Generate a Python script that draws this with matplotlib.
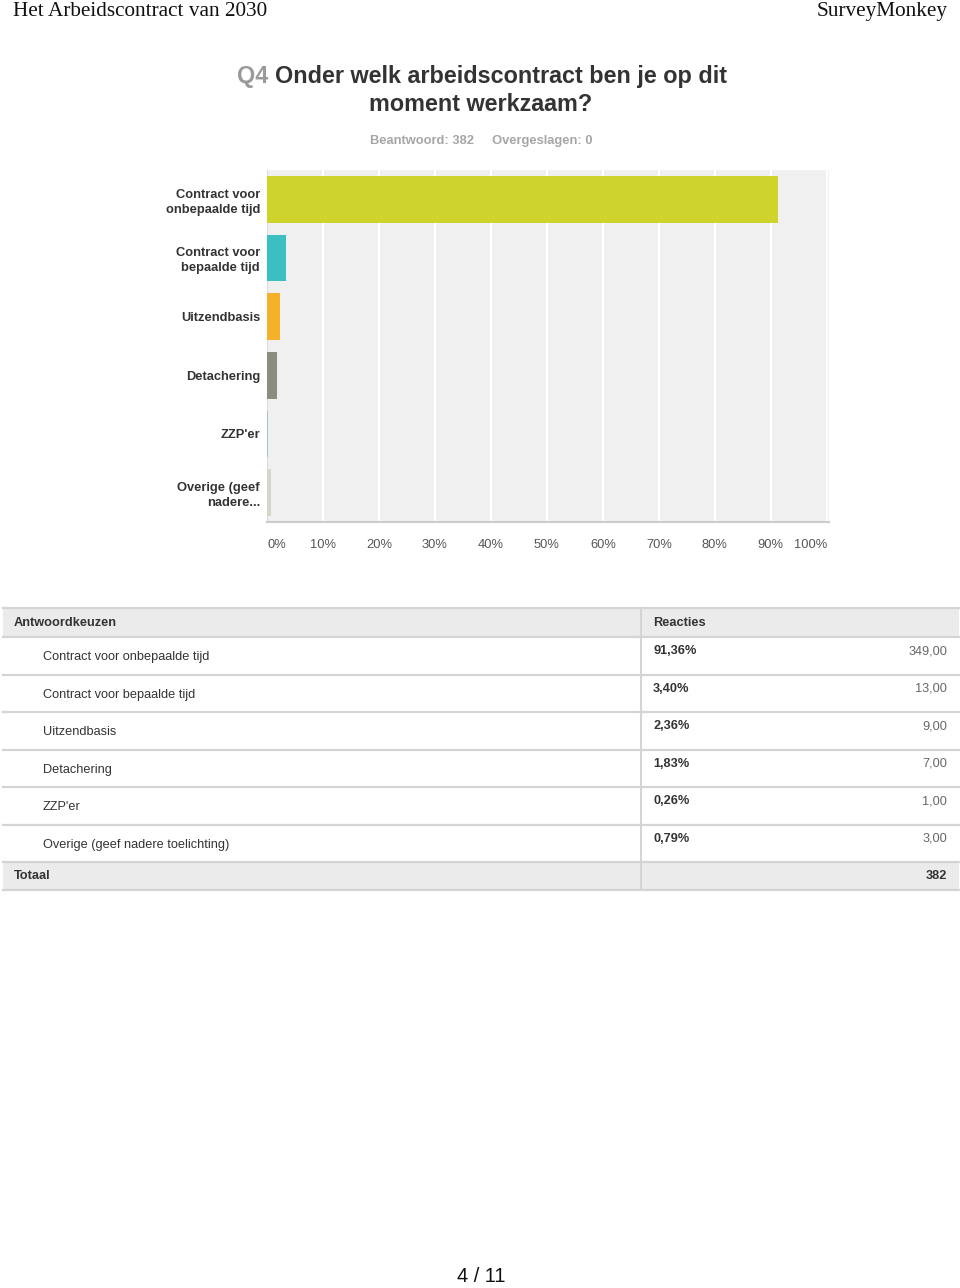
import numpy as np
import matplotlib
matplotlib.use('Agg')
import matplotlib.pyplot as plt

plt.rcParams['font.family'] = ['Liberation Sans', 'DejaVu Sans']

# --- data ---
labels = ['Contract voor\nonbepaalde tijd', 'Contract voor\nbepaalde tijd', 'Uitzendbasis',
          'Detachering', "ZZP'er", 'Overige (geef\nnadere...']
full_labels = ['Contract voor onbepaalde tijd', 'Contract voor bepaalde tijd', 'Uitzendbasis',
               'Detachering', "ZZP'er", 'Overige (geef nadere toelichting)']
percent = [91.36, 3.40, 2.36, 1.83, 0.26, 0.79]
counts = [349, 13, 9, 7, 1, 3]
total = 382
skipped = 0
colors = ['#cfd42c', '#3cbfc0', '#f5b12a', '#8c8d7f', '#a9c4cc', '#d6d6ca']
xticks = [0, 10, 20, 30, 40, 50, 60, 70, 80, 90, 100]

W, H = 960, 1288
fig = plt.figure(figsize=(W / 100, H / 100), dpi=100)

# overlay axes in page pixels (y downwards)
page = fig.add_axes([0, 0, 1, 1])
page.set_xlim(0, W)
page.set_ylim(H, 0)
page.axis('off')

# header
page.text(13, 16, 'Het Arbeidscontract van 2030', family='Liberation Serif', fontsize=15.3,
          color='#111111', va='baseline', ha='left')
page.text(948, 16, 'SurveyMonkey', family='Liberation Serif', fontsize=15.3,
          color='#111111', va='baseline', ha='right')

# title
q = page.text(237, 83, 'Q4 ', fontsize=16.8, fontweight='bold', color='#9a9a9a',
              va='baseline', ha='left')
page.annotate('Onder welk arbeidscontract ben je op dit', xy=(1, 0), xycoords=q,
              fontsize=16.8, fontweight='bold', color='#333333', va='bottom', ha='left')
page.text(481, 111, 'moment werkzaam?', fontsize=16.8, fontweight='bold', color='#333333',
          va='baseline', ha='center')
page.text(481, 144, f'Beantwoord: {total}     Overgeslagen: {skipped}', fontsize=9.3,
          fontweight='bold', color='#a6a6a6', va='baseline', ha='center')

# --- bar chart ---
ax = fig.add_axes([267 / W, (H - 522) / H, 562 / W, 352 / H])
ax.set_facecolor('#f0f0f0')
y = np.arange(len(labels))
ax.barh(y, percent, height=0.8, color=colors, zorder=3)
ax.set_xlim(0, 100.4)
ax.set_ylim(len(labels) - 0.5, -0.5)
ax.set_xticks(xticks)
ax.set_xticklabels([f'{t}%' for t in xticks], fontsize=9.3, color='#555555')
tl = ax.get_xticklabels()
tl[0].set_ha('left')
tl[-1].set_ha('right')
ax.grid(axis='x', color='white', linewidth=1.5, zorder=1)
ax.set_yticks(y)
ax.set_yticklabels(labels, fontsize=9.3, fontweight='bold', color='#333333',
                   linespacing=1.3)
ax.tick_params(axis='both', length=0)
ax.tick_params(axis='x', pad=12)
ax.tick_params(axis='y', pad=5)
for s in ['top', 'right']:
    ax.spines[s].set_visible(False)
ax.spines['left'].set_color('#dddddd')
ax.spines['bottom'].set_color('#cccccc')
ax.spines['bottom'].set_linewidth(1.5)

# --- table ---
tx0, tx1, tdiv = 3, 959, 641
top, head_h, row_h = 608, 29, 37.5
rows_top = top + head_h
tot_top = rows_top + row_h * len(full_labels)
tot_bot = tot_top + 28
line_c = '#d4d4d4'
bg_c = '#ebebeb'

page.fill_between([tx0, tx1], top, rows_top, color=bg_c, lw=0)
page.fill_between([tx0, tx1], tot_top, tot_bot, color=bg_c, lw=0)
page.plot([tdiv, tdiv], [top, tot_bot], color=line_c, lw=1.5)
for yy in [top, rows_top, tot_top, tot_bot]:
    page.plot([tx0, tx1], [yy, yy], color=line_c, lw=1.6)
for i in range(1, len(full_labels)):
    yy = rows_top + row_h * i
    page.plot([tx0, tx1], [yy, yy], color=line_c, lw=1.6)

page.text(14, top + head_h / 2, 'Antwoordkeuzen', fontsize=9.2, fontweight='bold',
          color='#333333', va='center', ha='left')
page.text(653, top + head_h / 2, 'Reacties', fontsize=9.2, fontweight='bold',
          color='#333333', va='center', ha='left')
for i, (lab, p, c) in enumerate(zip(full_labels, percent, counts)):
    rt = rows_top + row_h * i
    page.text(43, rt + 20, lab, fontsize=9.2, color='#333333', va='center', ha='left')
    page.text(653, rt + 14, f'{p:.2f}%'.replace('.', ','), fontsize=9.2, fontweight='bold',
              color='#333333', va='center', ha='left')
    page.text(947, rt + 14, f'{c:.2f}'.replace('.', ','), fontsize=9.2, color='#666666',
              va='center', ha='right')
page.text(14, (tot_top + tot_bot) / 2, 'Totaal', fontsize=9.2, fontweight='bold',
          color='#333333', va='center', ha='left')
page.text(947, (tot_top + tot_bot) / 2, str(total), fontsize=9.2, fontweight='bold',
          color='#333333', va='center', ha='right')

# page number
page.text(481, 1277, '4 / 11', fontsize=14.4, color='#111111', va='center', ha='center')

fig.savefig('out.png', dpi=100)
